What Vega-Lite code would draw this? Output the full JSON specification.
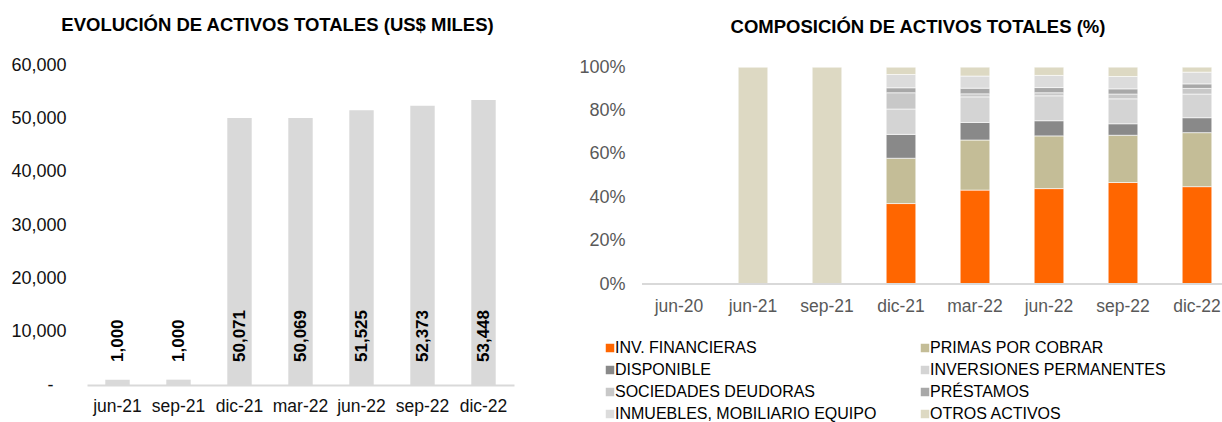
{
  "$schema": "https://vega.github.io/schema/vega-lite/v6.json",
  "background": "white",
  "padding": {"left": 10, "top": 15, "right": 0, "bottom": 0},
  "spacing": 64,
  "resolve": {"legend": {"color": "independent"}, "scale": {"color": "independent"}},
  "config": {
    "font": "Liberation Sans",
    "view": {"stroke": null},
    "axis": {"grid": false, "ticks": false, "domain": false, "title": null, "labelFont": "Liberation Sans"},
    "title": {"font": "Liberation Sans", "fontSize": 18.5, "fontWeight": "bold", "color": "#000000"}
  },
  "datasets": {
    "totales": [
      {"periodo": "jun-21", "total": 1000},
      {"periodo": "sep-21", "total": 1000},
      {"periodo": "dic-21", "total": 50071},
      {"periodo": "mar-22", "total": 50069},
      {"periodo": "jun-22", "total": 51525},
      {"periodo": "sep-22", "total": 52373},
      {"periodo": "dic-22", "total": 53448}
    ],
    "composicion": [
      {"periodo": "jun-21", "tipo": "OTROS ACTIVOS", "pct": 100},
      {"periodo": "sep-21", "tipo": "OTROS ACTIVOS", "pct": 100},
      {"periodo": "dic-21", "tipo": "INV. FINANCIERAS", "pct": 37.1},
      {"periodo": "dic-21", "tipo": "PRIMAS POR COBRAR", "pct": 20.9},
      {"periodo": "dic-21", "tipo": "DISPONIBLE", "pct": 11.0},
      {"periodo": "dic-21", "tipo": "INVERSIONES PERMANENTES", "pct": 11.7},
      {"periodo": "dic-21", "tipo": "SOCIEDADES DEUDORAS", "pct": 7.5},
      {"periodo": "dic-21", "tipo": "PRÉSTAMOS", "pct": 2.3},
      {"periodo": "dic-21", "tipo": "INMUEBLES, MOBILIARIO EQUIPO", "pct": 6.1},
      {"periodo": "dic-21", "tipo": "OTROS ACTIVOS", "pct": 3.4},
      {"periodo": "mar-22", "tipo": "INV. FINANCIERAS", "pct": 43.3},
      {"periodo": "mar-22", "tipo": "PRIMAS POR COBRAR", "pct": 23.1},
      {"periodo": "mar-22", "tipo": "DISPONIBLE", "pct": 8.1},
      {"periodo": "mar-22", "tipo": "INVERSIONES PERMANENTES", "pct": 11.8},
      {"periodo": "mar-22", "tipo": "SOCIEDADES DEUDORAS", "pct": 1.4},
      {"periodo": "mar-22", "tipo": "PRÉSTAMOS", "pct": 2.6},
      {"periodo": "mar-22", "tipo": "INMUEBLES, MOBILIARIO EQUIPO", "pct": 5.6},
      {"periodo": "mar-22", "tipo": "OTROS ACTIVOS", "pct": 4.1},
      {"periodo": "jun-22", "tipo": "INV. FINANCIERAS", "pct": 44.0},
      {"periodo": "jun-22", "tipo": "PRIMAS POR COBRAR", "pct": 24.3},
      {"periodo": "jun-22", "tipo": "DISPONIBLE", "pct": 7.0},
      {"periodo": "jun-22", "tipo": "INVERSIONES PERMANENTES", "pct": 11.5},
      {"periodo": "jun-22", "tipo": "SOCIEDADES DEUDORAS", "pct": 1.4},
      {"periodo": "jun-22", "tipo": "PRÉSTAMOS", "pct": 2.4},
      {"periodo": "jun-22", "tipo": "INMUEBLES, MOBILIARIO EQUIPO", "pct": 5.6},
      {"periodo": "jun-22", "tipo": "OTROS ACTIVOS", "pct": 3.8},
      {"periodo": "sep-22", "tipo": "INV. FINANCIERAS", "pct": 46.8},
      {"periodo": "sep-22", "tipo": "PRIMAS POR COBRAR", "pct": 21.8},
      {"periodo": "sep-22", "tipo": "DISPONIBLE", "pct": 5.3},
      {"periodo": "sep-22", "tipo": "INVERSIONES PERMANENTES", "pct": 11.5},
      {"periodo": "sep-22", "tipo": "SOCIEDADES DEUDORAS", "pct": 2.2},
      {"periodo": "sep-22", "tipo": "PRÉSTAMOS", "pct": 2.4},
      {"periodo": "sep-22", "tipo": "INMUEBLES, MOBILIARIO EQUIPO", "pct": 5.7},
      {"periodo": "sep-22", "tipo": "OTROS ACTIVOS", "pct": 4.3},
      {"periodo": "dic-22", "tipo": "INV. FINANCIERAS", "pct": 44.9},
      {"periodo": "dic-22", "tipo": "PRIMAS POR COBRAR", "pct": 24.9},
      {"periodo": "dic-22", "tipo": "DISPONIBLE", "pct": 6.9},
      {"periodo": "dic-22", "tipo": "INVERSIONES PERMANENTES", "pct": 10.9},
      {"periodo": "dic-22", "tipo": "SOCIEDADES DEUDORAS", "pct": 2.6},
      {"periodo": "dic-22", "tipo": "PRÉSTAMOS", "pct": 2.1},
      {"periodo": "dic-22", "tipo": "INMUEBLES, MOBILIARIO EQUIPO", "pct": 5.4},
      {"periodo": "dic-22", "tipo": "OTROS ACTIVOS", "pct": 2.3}
    ]
  },
  "hconcat": [
    {
      "width": 427,
      "height": 320,
      "title": {"text": "EVOLUCIÓN DE ACTIVOS TOTALES (US$ MILES)", "frame": "group", "anchor": "middle", "dx": -23, "offset": 22},
      "data": {"name": "totales"},
      "encoding": {
        "x": {
          "field": "periodo", "type": "nominal", "sort": null,
          "scale": {"paddingInner": 0.6, "paddingOuter": 0.3},
          "axis": {"labelAngle": 0, "domain": true, "domainColor": "#d9d9d9", "domainWidth": 2, "labelFontSize": 17.5, "labelColor": "#111111", "labelPadding": 12}
        }
      },
      "layer": [
        {
          "mark": {"type": "bar", "color": "#d9d9d9"},
          "encoding": {
            "y": {
              "field": "total", "type": "quantitative",
              "scale": {"domain": [0, 60000], "nice": false},
              "axis": {
                "values": [0, 10000, 20000, 30000, 40000, 50000, 60000],
                "labelExpr": "datum.value == 0 ? '-\u2800' : format(datum.value, ',')",
                "labelFontSize": 18, "labelColor": "#111111", "labelPadding": 21
              }
            }
          }
        },
        {
          "mark": {"type": "text", "angle": 270, "align": "left", "baseline": "middle", "dx": 23, "fontSize": 17, "fontWeight": "bold", "color": "#000000"},
          "encoding": {
            "y": {"datum": 0, "type": "quantitative"},
            "text": {"field": "total", "type": "quantitative", "format": ","}
          }
        }
      ]
    },
    {
      "width": 582,
      "height": 219,
      "title": {"text": "COMPOSICIÓN DE ACTIVOS TOTALES (%)", "frame": "group", "anchor": "middle", "dx": -15, "offset": 22},
      "data": {"name": "composicion"},
      "transform": [
        {"calculate": "indexof(['INV. FINANCIERAS', 'PRIMAS POR COBRAR', 'DISPONIBLE', 'INVERSIONES PERMANENTES', 'SOCIEDADES DEUDORAS', 'PRÉSTAMOS', 'INMUEBLES, MOBILIARIO EQUIPO', 'OTROS ACTIVOS'], datum.tipo)", "as": "orden"}
      ],
      "layer": [
        {
          "mark": {"type": "bar", "stroke": "white", "strokeWidth": 0.6},
          "encoding": {
            "x": {
              "field": "periodo", "type": "nominal",
              "scale": {"domain": ["jun-20", "jun-21", "sep-21", "dic-21", "mar-22", "jun-22", "sep-22", "dic-22"], "range": [0, 592], "paddingInner": 0.6, "paddingOuter": 0.3},
              "axis": {"labelAngle": 0, "domain": false, "labelFontSize": 17.5, "labelColor": "#595959", "labelPadding": 13}
            },
            "y": {
              "field": "pct", "type": "quantitative", "stack": "normalize",
              "scale": {"domain": [0, 1.01], "nice": false},
              "axis": {"values": [0, 0.2, 0.4, 0.6, 0.8, 1], "format": ".0%", "labelFontSize": 18, "labelColor": "#595959", "labelPadding": 17}
            },
            "order": {"field": "orden", "type": "quantitative", "sort": "ascending"},
            "color": {
              "field": "tipo", "type": "nominal",
              "scale": {
                "domain": ["INV. FINANCIERAS", "PRIMAS POR COBRAR", "DISPONIBLE", "INVERSIONES PERMANENTES", "SOCIEDADES DEUDORAS", "PRÉSTAMOS", "INMUEBLES, MOBILIARIO EQUIPO", "OTROS ACTIVOS"],
                "range": ["#ff6600", "#c4bd97", "#898989", "#d4d4d4", "#c8c8c8", "#a8a8a8", "#dcdcdc", "#ddd9c3"]
              },
              "legend": {
                "title": null, "orient": "none", "legendX": -40, "legendY": 275, "columns": 2, "direction": "horizontal",
                "symbolType": "square", "symbolSize": 72, "symbolStrokeWidth": 0,
                "labelFontSize": 16, "labelColor": "#000000", "labelOffset": -3, "labelLimit": 400,
                "rowPadding": 6, "columnPadding": 40
              }
            }
          }
        },
        {
          "mark": {"type": "rule", "color": "#d9d9d9", "strokeWidth": 2},
          "encoding": {"y": {"datum": 0, "type": "quantitative"}}
        }
      ]
    }
  ]
}
